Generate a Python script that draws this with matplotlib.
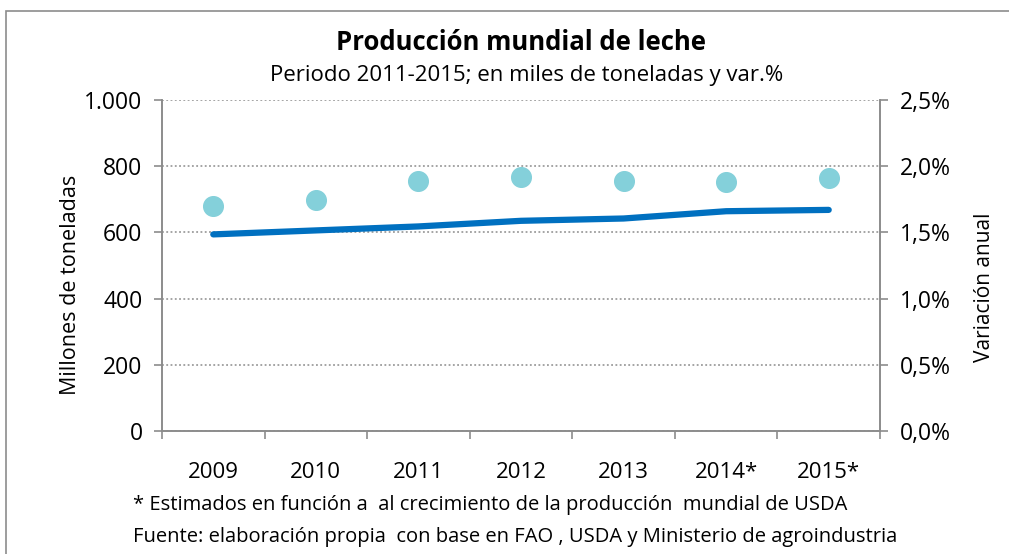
import matplotlib.pyplot as plt
from matplotlib.patches import Rectangle
from matplotlib.ticker import FixedLocator

plt.rcParams['font.family'] = ['Open Sans', 'DejaVu Sans']

years = ['2009', '2010', '2011', '2012', '2013', '2014*', '2015*']
produccion = [594, 606, 618, 635, 642, 664, 668]        # millones de toneladas
variacion = [1.70, 1.745, 1.89, 1.92, 1.89, 1.88, 1.91]  # % anual

left_ticks = [0, 200, 400, 600, 800, 1000]
left_labels = ['0', '200', '400', '600', '800', '1.000']
right_ticks = [0, 0.5, 1.0, 1.5, 2.0, 2.5]
right_labels = ['0,0%', '0,5%', '1,0%', '1,5%', '2,0%', '2,5%']

grey = '#8c8c8c'
W, H = 1009, 554
fig = plt.figure(figsize=(W / 100, H / 100), dpi=100)
fig.patches.append(Rectangle((6 / W, -0.05), 1.2, 1 - 11 / H + 0.05,
                             transform=fig.transFigure, fill=False,
                             edgecolor=grey, linewidth=1.2))

ax = fig.add_axes([162 / W, 123 / H, 718 / W, 331 / H])
x = list(range(len(years)))
ax.plot(x, produccion, color='#0070C0', linewidth=4.5, solid_capstyle='round',
        solid_joinstyle='round', zorder=3)
ax.set_xlim(-0.5, len(years) - 0.5)
ax.set_ylim(0, 1000)
ax.set_yticks(left_ticks)
ax.set_yticklabels(left_labels, fontsize=16.5)
ax.set_xticks(x)
ax.set_xticklabels(years, fontsize=16)
ax.xaxis.set_minor_locator(FixedLocator([i - 0.5 for i in range(len(years) + 1)]))
ax.tick_params(axis='x', which='major', length=0, pad=22)
ax.tick_params(axis='x', which='minor', length=6, color=grey, width=1.2)
ax.tick_params(axis='y', length=6, color=grey, width=1.2, pad=8)
ax.grid(axis='y', linestyle=(0, (1.2, 1.6)), color='#8c8c8c', linewidth=1.1)
for side in ['left', 'bottom', 'right']:
    ax.spines[side].set_color(grey)
    ax.spines[side].set_linewidth(1.2)
ax.spines['top'].set_visible(False)

ax2 = ax.twinx()
ax2.scatter(x, variacion, s=200, color='#84D0DA', zorder=4)
ax2.set_ylim(0, 2.5)
ax2.set_yticks(right_ticks)
ax2.set_yticklabels(right_labels, fontsize=16.5)
ax2.tick_params(axis='y', length=6, color=grey, width=1.2, pad=8)
for side in ['left', 'bottom', 'right']:
    ax2.spines[side].set_color(grey)
    ax2.spines[side].set_linewidth(1.2)
ax2.spines['top'].set_visible(False)

fig.text(70 / W, 1 - 285 / H, 'Millones de toneladas', rotation=90,
         ha='center', va='center', fontsize=15.5)
fig.text(985 / W, 1 - 287 / H, 'Variación anual', rotation=90,
         ha='center', va='center', fontsize=15)
fig.text(521 / W, 1 - 42 / H, 'Producción mundial de leche', ha='center',
         va='center', fontsize=18.5, fontweight='bold')
fig.text(527 / W, 1 - 75 / H, 'Periodo 2011-2015; en miles de toneladas y var.%',
         ha='center', va='center', fontsize=16)
fig.text(133 / W, 1 - 505 / H,
         '* Estimados en función a  al crecimiento de la producción  mundial de USDA',
         ha='left', va='center', fontsize=14.5)
fig.text(133 / W, 1 - 537 / H,
         'Fuente: elaboración propia  con base en FAO , USDA y Ministerio de agroindustria',
         ha='left', va='center', fontsize=14.5)

fig.savefig('out.png', dpi=100)
